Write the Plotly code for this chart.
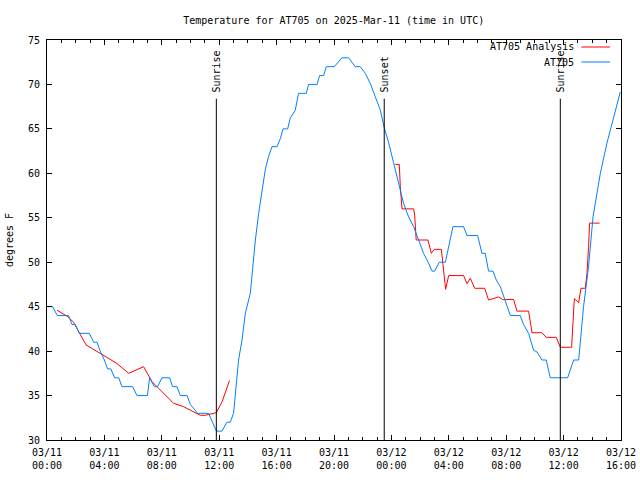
import pandas as pd
import plotly.graph_objects as go

BASE = pd.Timestamp("2025-03-11 00:00")

# AT705 observations: hours since 03/11 00:00 UTC, temperature (F)
obs_hours = [0, 0.39, 0.72, 1.5, 1.74, 1.97, 2.25, 2.95, 3.25, 3.48, 3.71, 4.0, 4.22, 4.45,
             4.71, 5.0, 5.22, 5.97, 6.27, 7.0, 7.15, 7.48, 7.71, 8.01, 8.55, 8.75, 9.06, 9.29,
             9.76, 9.99, 10.5, 11.26, 11.8, 12.19, 12.54, 12.77, 13.0, 13.12, 13.35, 13.59,
             13.82, 14.17, 14.4, 14.52, 14.75, 14.98, 15.21, 15.44, 15.68, 16.03, 16.26, 16.45,
             16.77, 16.95, 17.3, 17.53, 18.07, 18.23, 18.82, 19.0, 19.28, 19.46, 20.02, 20.56,
             21.02, 21.48, 21.83, 22.18, 22.53, 22.88, 23.23, 23.51, 23.8, 24.15, 24.5, 24.85,
             25.2, 25.55, 25.9, 26.24, 26.59, 26.83, 27.01, 27.34, 27.76, 27.99, 28.29, 29.03,
             29.27, 30.01, 30.31, 30.54, 30.77, 31.08, 31.31, 31.59, 31.94, 32.29, 32.98, 33.21,
             33.56, 33.91, 34.15, 34.49, 34.79, 35.07, 36.28, 36.7, 37.05, 37.39, 37.74, 38.05,
             38.56, 39.02, 39.44, 39.95]
obs_temp = [45, 45, 44, 44, 43, 43, 42, 42, 41, 41, 40, 39, 38, 38,
            37, 37, 36, 36, 35, 35, 37, 36, 36, 37, 37, 36, 36, 35,
            35, 34, 33, 33, 31, 31, 32, 32, 33, 35.25, 39, 41.25,
            44.25, 46.5, 50.6, 52.5, 55.5, 58.1, 60.4, 61.9, 63, 63, 63.9, 65,
            65, 66.2, 67.1, 69, 69, 70, 70, 71, 71, 72, 72, 73,
            73, 72, 72, 71.25, 70.1, 68.6, 67.1, 65.07, 63.5, 61.2, 58.9, 56.6,
            55.1, 54, 52.5, 51, 49.9, 49, 49, 50, 50, 51.9, 54, 54,
            53, 53, 51, 51, 49, 49, 48, 47.25, 45.56, 44, 44, 43,
            42, 40.1, 39.9, 39, 39, 37, 37, 39, 39, 45, 49.5, 55.1,
            60, 63.4, 66, 69.15]

# AT705 analysis (None = gap)
ana_hours = [0.7, 1.05, 1.46, 1.85, 2.09, 2.44, 2.72, 3.14, 3.71, 4.41, 4.88, 5.69, 6.73,
             7.32, 7.9, 8.82, 9.52, 10.22, 10.68, 11.03, 11.5, 11.8, 12.2, 12.72, 18.0,
             24.27, 24.55, 24.62, 24.74, 25.55, 25.62, 25.73, 26.55, 26.78, 26.99, 27.48,
             27.64, 27.78, 27.99, 29.03, 29.27, 29.5, 29.8, 30.5, 30.77, 31.47, 31.75, 32.52,
             32.75, 33.56, 33.8, 34.49, 34.79, 35.49, 35.77, 36.56, 36.65, 36.75, 37.05,
             37.21, 37.51, 37.63, 37.74, 37.81, 38.51]
ana_temp = [44.6, 44.25, 43.87, 43.24, 42.56, 41.44, 40.7, 40.3, 39.75, 39.1, 38.6, 37.5, 38.25,
            36.56, 35.6, 34.13, 33.75, 33.2, 32.78, 32.78, 32.93, 33.08, 34.3, 36.7, None,
            61, 61, 58.5, 56, 56, 55.3, 52.5, 52.5, 51, 51.45, 51.45,
            49.1, 46.95, 48.5, 48.5, 47.6, 48.2, 47.07, 47.07, 45.75, 46.1, 45.8, 45.8,
            44.5, 44.5, 42.07, 42.07, 41.55, 41.55, 40.43, 40.43, 43.1, 45.9, 45.45,
            47.07, 47.07, 48.75, 51.75, 54.4, 54.4]

# Sun events (hours since 03/11 00:00 UTC)
sun_labels = ["Sunrise", "Sunset", "Sunrise"]
sun_hours = [11.8, 23.5, 35.77]

def to_time(hs):
    return [BASE + pd.Timedelta(hours=h) for h in hs]

FONT = "DejaVu Sans Mono"
fig = go.Figure()
fig.add_trace(go.Scatter(x=to_time(ana_hours), y=ana_temp, mode="lines",
                         line=dict(color="#ff0000", width=1), name="AT705 Analysis",
                         connectgaps=False))
fig.add_trace(go.Scatter(x=to_time(obs_hours), y=obs_temp, mode="lines",
                         line=dict(color="#0080ff", width=1), name="AT705"))

for lab, h in zip(sun_labels, sun_hours):
    t = BASE + pd.Timedelta(hours=h)
    fig.add_shape(type="line", x0=t, x1=t, y0=30, y1=68.4, xref="x", yref="y",
                  line=dict(color="black", width=1))
    fig.add_annotation(x=t, y=68.9, xref="x", yref="y", text=lab, textangle=-90,
                       showarrow=False, yanchor="bottom", xanchor="center",
                       font=dict(family=FONT, size=10, color="black"))

# legend (gnuplot style, top right)
leg = [("AT705 Analysis", "#ff0000", 0.9825), ("AT705", "#0080ff", 0.945)]
for name, col, yp in leg:
    fig.add_annotation(x=0.921, y=yp, xref="paper", yref="paper", text=name,
                       showarrow=False, xanchor="right", yanchor="middle",
                       font=dict(family=FONT, size=10, color="black"))
    fig.add_shape(type="line", x0=0.931, x1=0.981, y0=yp, y1=yp, xref="paper",
                  yref="paper", line=dict(color=col, width=1))

fig.update_layout(
    width=640, height=480,
    margin=dict(l=47, r=19, t=40, b=40, autoexpand=False),
    plot_bgcolor="white", paper_bgcolor="white",
    showlegend=False,
    font=dict(family=FONT, size=10, color="black"),
    title=dict(text="Temperature for AT705 on 2025-Mar-11 (time in UTC)",
               x=0.5214, xanchor="center", y=0.958, yanchor="middle",
               font=dict(family=FONT, size=10, color="black")),
)
fig.update_xaxes(
    range=[BASE, BASE + pd.Timedelta(hours=40)], automargin=False,
    tick0=BASE, dtick=4 * 3600 * 1000, tickformat="%m/%d<br>%H:%M",
    ticks="inside", ticklen=5, tickcolor="black", mirror="ticks",
    ticklabelstandoff=3,
    showline=True, linecolor="black", linewidth=1, showgrid=False, zeroline=False,
    minor=dict(dtick=3600 * 1000, ticks="inside", ticklen=3, tickcolor="black", showgrid=False),
    tickfont=dict(family=FONT, size=10, color="black"),
)
fig.update_yaxes(
    range=[30, 75], dtick=5, tick0=30, automargin=False,
    ticks="inside", ticklen=5, tickcolor="black", mirror="ticks",
    ticklabelstandoff=4,
    showline=True, linecolor="black", linewidth=1, showgrid=False, zeroline=False,
    title=dict(text="degrees F", standoff=12, font=dict(family=FONT, size=10, color="black")),
    tickfont=dict(family=FONT, size=10, color="black"),
)

fig.write_html("out.html", config={"displayModeBar": False},
               post_script="document.body.style.margin='0';document.body.style.padding='0';")
